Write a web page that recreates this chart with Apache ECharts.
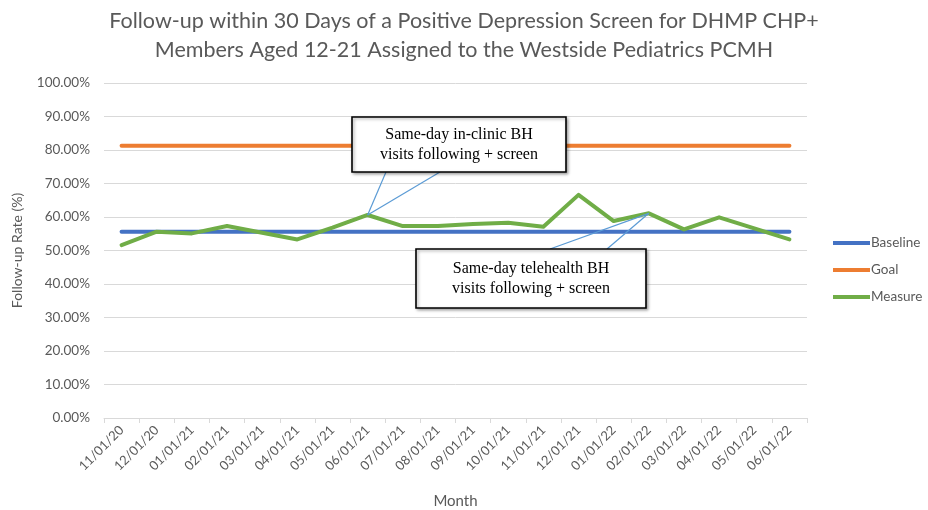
<!DOCTYPE html>
<html>
<head>
<meta charset="utf-8">
<script src="https://cdn.jsdelivr.net/npm/echarts@6/dist/echarts.min.js"></script>
<style>
  html, body { margin: 0; padding: 0; background: #fff; }
  #chart { width: 928px; height: 510px; }
</style>
</head>
<body>
<div id="chart"></div>
<script>
// Monthly follow-up rates (%)
const months = ['11/01/20', '12/01/20', '01/01/21', '02/01/21', '03/01/21', '04/01/21', '05/01/21',
  '06/01/21', '07/01/21', '08/01/21', '09/01/21', '10/01/21', '11/01/21', '12/01/21',
  '01/01/22', '02/01/22', '03/01/22', '04/01/22', '05/01/22', '06/01/22'];
const baseline = [55.6, 55.6, 55.6, 55.6, 55.6, 55.6, 55.6, 55.6, 55.6, 55.6,
  55.6, 55.6, 55.6, 55.6, 55.6, 55.6, 55.6, 55.6, 55.6, 55.6];
const goal = [81.3, 81.3, 81.3, 81.3, 81.3, 81.3, 81.3, 81.3, 81.3, 81.3,
  81.3, 81.3, 81.3, 81.3, 81.3, 81.3, 81.3, 81.3, 81.3, 81.3];
const measure = [51.6, 55.6, 55.1, 57.3, 55.3, 53.3, 56.8, 60.6, 57.3, 57.3,
  57.9, 58.3, 57.1, 66.6, 58.8, 61.1, 56.3, 59.9, 56.6, 53.3];

// Callout notes: month they point at and their wording
const notes = [
  { month: '06/01/21', text: 'Same-day in-clinic BH\nvisits following + screen' },
  { month: '02/01/22', text: 'Same-day telehealth BH\nvisits following + screen' }
];

const grey = '#595959';
const sans = 'Lato, "Open Sans", sans-serif';

const chart = echarts.init(document.getElementById('chart'));

function lineSeries(name, data, color) {
  return {
    name: name,
    type: 'line',
    data: data,
    symbol: 'none',
    animation: false,
    lineStyle: { width: 4, color: color, cap: 'round', join: 'round' },
    itemStyle: { color: color }
  };
}

chart.setOption({
  backgroundColor: '#ffffff',
  title: {
    text: 'Follow-up within 30 Days of a Positive Depression Screen for DHMP CHP+\nMembers Aged 12-21 Assigned to the Westside Pediatrics PCMH',
    left: 'center',
    top: 2,
    textStyle: { fontFamily: sans, fontSize: 21.5, fontWeight: 'normal', color: grey, lineHeight: 29 }
  },
  legend: {
    orient: 'vertical',
    left: 828,
    top: 231,
    itemWidth: 37,
    itemHeight: 4,
    itemGap: 13,
    icon: 'rect',
    textStyle: { fontFamily: sans, fontSize: 13.5, color: grey, padding: [0, 0, 0, -4] },
    data: ['Baseline', 'Goal', 'Measure']
  },
  grid: { left: 104, right: 121, top: 83, bottom: 92, containLabel: false, outerBoundsMode: 'none' },
  xAxis: {
    type: 'category',
    data: months,
    boundaryGap: true,
    name: 'Month',
    nameLocation: 'middle',
    nameGap: 76,
    nameTextStyle: { fontFamily: sans, fontSize: 15, color: grey },
    axisLine: { lineStyle: { color: '#d9d9d9', width: 1 } },
    axisTick: { show: true, length: 5, lineStyle: { color: '#d9d9d9' } },
    axisLabel: { rotate: 45, fontFamily: sans, fontSize: 13, color: grey, margin: 10 }
  },
  yAxis: {
    type: 'value',
    min: 0,
    max: 100,
    interval: 10,
    name: 'Follow-up Rate (%)',
    nameLocation: 'middle',
    nameGap: 80,
    nameTextStyle: { fontFamily: sans, fontSize: 14, color: grey },
    axisLine: { show: false },
    axisTick: { show: false },
    splitLine: { lineStyle: { color: '#d9d9d9', width: 1 } },
    axisLabel: {
      fontFamily: sans, fontSize: 13.5, color: grey, margin: 14,
      formatter: function (v) { return v.toFixed(2) + '%'; }
    }
  },
  series: [
    lineSeries('Baseline', baseline, '#4472c4'),
    lineSeries('Goal', goal, '#ed7d31'),
    lineSeries('Measure', measure, '#70ad47')
  ]
});

// Callout boxes with leader lines to the data points they describe
const boxes = [
  { x: 352, y: 117, w: 214, h: 55, bases: [386, 440], edge: 'bottom' },
  { x: 416, y: 249, w: 230, h: 59, bases: [550, 607], edge: 'top' }
];

const graphics = [];
notes.forEach(function (note, k) {
  const idx = months.indexOf(note.month);
  const tip = chart.convertToPixel({ seriesIndex: 2 }, [idx, measure[idx]]);
  const b = boxes[k];
  const by = b.edge === 'bottom' ? b.y + b.h : b.y;
  b.bases.forEach(function (bx) {
    graphics.push({
      type: 'line',
      shape: { x1: bx, y1: by, x2: tip[0], y2: tip[1] },
      style: { stroke: '#5b9bd5', lineWidth: 1.2 },
      z: 100
    });
  });
  graphics.push({
    type: 'rect',
    shape: { x: b.x, y: b.y, width: b.w, height: b.h },
    style: {
      fill: '#ffffff', stroke: '#000000', lineWidth: 1.6,
      shadowBlur: 3, shadowOffsetX: 1.5, shadowOffsetY: 1.5, shadowColor: 'rgba(0,0,0,0.35)'
    },
    z: 101
  });
  graphics.push({
    type: 'text',
    x: b.x + b.w / 2,
    y: b.y + b.h / 2,
    style: {
      text: note.text,
      font: '16px "Liberation Serif", "Times New Roman", serif',
      fill: '#000000',
      align: 'center',
      verticalAlign: 'middle',
      lineHeight: 20
    },
    z: 102
  });
});
chart.setOption({ graphic: graphics });
</script>
</body>
</html>
